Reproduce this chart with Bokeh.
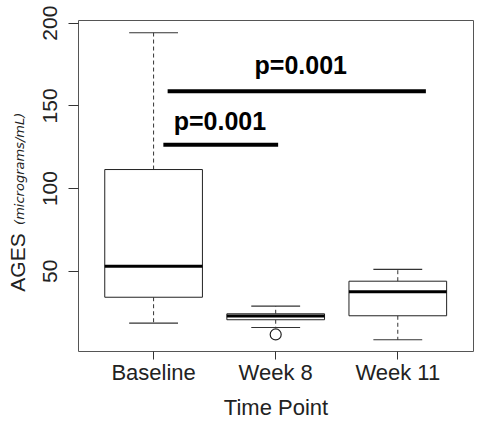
import math
from bokeh.plotting import figure
from bokeh.layouts import row
from bokeh.models import Range1d, FixedTicker, ColumnDataSource
from bokeh.embed import file_html
from bokeh.resources import INLINE
from bokeh.core.properties import value

categories = ["Baseline", "Week 8", "Week 11"]
xpos = [1, 2, 3]
q1 = [34.3, 20.7, 23.1]
median = [53.0, 22.9, 37.6]
q3 = [111.5, 24.3, 44.0]
lower = [18.6, 16.0, 8.6]
upper = [194.2, 28.9, 51.1]
outlier_x = [2]
outlier_y = [11.8]
y_ticks = [50, 100, 150, 200]

# significance annotations
sig_x0 = [1.08, 1.115]
sig_x1 = [2.02, 3.23]
sig_y = [126.5, 158.9]
sig_text = ["p=0.001", "p=0.001"]
sig_tx = [1.543, 2.205]
sig_ty = [140.6, 175.0]

ylabel_main = "AGES"
ylabel_unit = "(micrograms/mL)"

FONT = "Liberation Sans"
H = 424
LW = 34

# narrow strip holding the two-part y-axis title
lp = figure(width=LW, height=H, output_backend="svg", toolbar_location=None,
            x_range=Range1d(0, LW), y_range=Range1d(0, H),
            x_axis_location=None, y_axis_location=None,
            min_border=0, outline_line_color=None)
lp.title.visible = False
lp.grid.visible = False
lp.text(x=[17], y=[H - 310], text=[ylabel_main], angle=math.pi / 2, text_font=value(FONT),
        text_font_size="21px", text_align="center", text_baseline="middle", text_color="#222222")
lp.text(x=[18.5], y=[H - 190], text=[ylabel_unit], angle=math.pi / 2, text_font=value("DejaVu Sans"),
        text_font_style="italic", text_font_size="13px", text_align="center", text_baseline="middle",
        text_color="#222222")

p = figure(width=482 - LW, height=H, output_backend="svg", toolbar_location=None,
           x_range=Range1d(0.385, 3.62), y_range=Range1d(1.5, 201.6),
           min_border_left=78 - LW, min_border_right=9, min_border_top=20, min_border_bottom=73)
p.background_fill_color = "white"
p.border_fill_color = "white"
p.outline_line_color = "#555555"
p.outline_line_width = 1
p.grid.visible = False

bw = 0.8
cw = 0.4
src = ColumnDataSource(dict(x=xpos, q1=q1, med=median, q3=q3, lo=lower, hi=upper,
                            xl=[x - bw / 2 for x in xpos], xr=[x + bw / 2 for x in xpos],
                            cl=[x - cw / 2 for x in xpos], cr=[x + cw / 2 for x in xpos]))

# whiskers
p.segment(x0="x", y0="q3", x1="x", y1="hi", source=src, line_color="#333333", line_width=1, line_dash="4 3")
p.segment(x0="x", y0="q1", x1="x", y1="lo", source=src, line_color="#333333", line_width=1, line_dash="4 3")
p.segment(x0="cl", y0="hi", x1="cr", y1="hi", source=src, line_color="#333333", line_width=1.2)
p.segment(x0="cl", y0="lo", x1="cr", y1="lo", source=src, line_color="#333333", line_width=1.2)
# boxes
p.quad(left="xl", right="xr", bottom="q1", top="q3", source=src, fill_color="white",
       line_color="#222222", line_width=1)
p.segment(x0="xl", y0="med", x1="xr", y1="med", source=src, line_color="black", line_width=3)
# outlier
p.scatter(outlier_x, outlier_y, marker="circle", size=11, fill_color=None, line_color="#222222", line_width=1.2)

# significance bars
p.segment(x0=sig_x0, y0=sig_y, x1=sig_x1, y1=sig_y, line_color="black", line_width=4)
p.text(x=sig_tx, y=sig_ty, text=sig_text, text_font=value(FONT), text_font_style="bold",
       text_font_size="25px", text_align="center", text_baseline="alphabetic", text_color="black")

# axes
p.xaxis.ticker = FixedTicker(ticks=xpos)
p.xaxis.major_label_overrides = {x: c for x, c in zip(xpos, categories)}
p.yaxis.ticker = FixedTicker(ticks=y_ticks)
for ax in (p.xaxis, p.yaxis):
    ax.axis_line_color = None
    ax.major_tick_line_color = "#333333"
    ax.major_tick_in = 0
    ax.major_tick_out = 10
    ax.minor_tick_line_color = None
    ax.major_label_text_font = FONT
    ax.major_label_text_font_size = "21px"
    ax.major_label_text_color = "#222222"
p.xaxis.major_tick_out = 8
p.xaxis.major_label_text_font_size = "22px"
p.yaxis.major_label_orientation = "vertical"
p.yaxis.major_label_standoff = 11
p.xaxis.major_label_standoff = 0
p.xaxis.axis_label = "Time Point"
p.xaxis.axis_label_text_font = FONT
p.xaxis.axis_label_text_font_size = "22px"
p.xaxis.axis_label_text_font_style = "normal"
p.xaxis.axis_label_text_color = "#222222"
p.xaxis.axis_label_standoff = 7

layout = row(lp, p, spacing=0)
open("out.html", "w").write(file_html(layout, INLINE))
